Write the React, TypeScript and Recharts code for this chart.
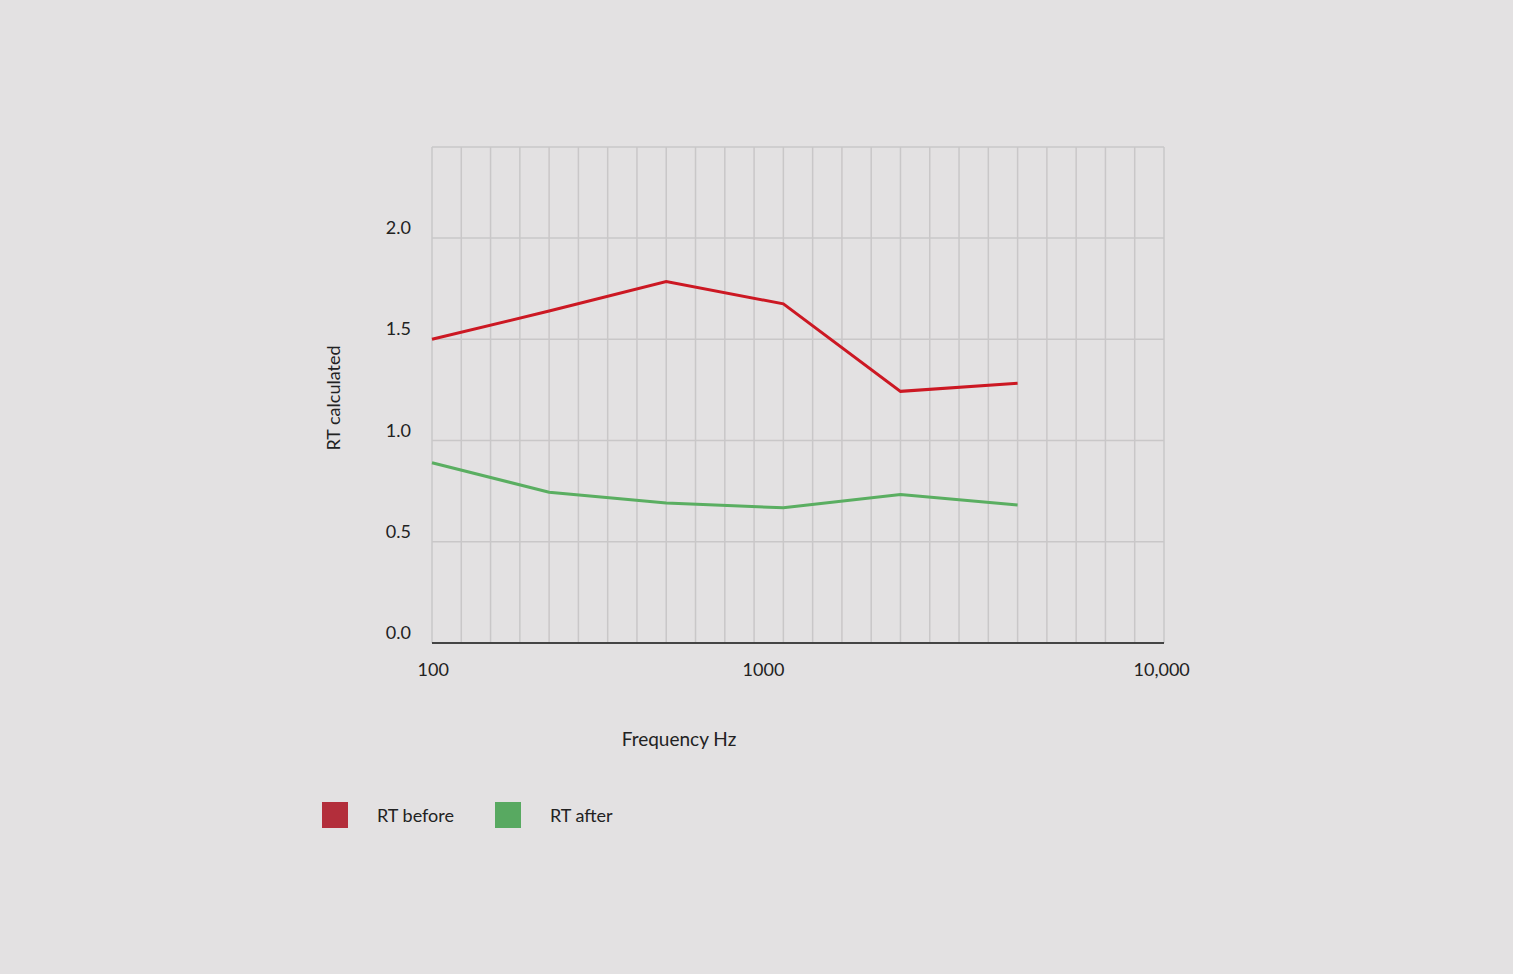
import { LineChart, Line, XAxis, YAxis, CartesianGrid, Legend } from "recharts"

// octave bands 125 Hz .. 4000 Hz, plotted at equal steps
const bands = ["125", "250", "500", "1000", "2000", "4000"]
const rtBefore = [1.5, 1.64, 1.785, 1.675, 1.243, 1.283]
const rtAfter = [0.89, 0.745, 0.692, 0.668, 0.733, 0.682]

// quarter-band grid lines and the printed frequency labels
const gridTicks = Array.from({ length: 26 }, (_, i) => i * 0.25)
const freqTickPos = [0.01, 2.83, 6.23]
const freqTickLabels = ["100", "1000", "10,000"]
const rtTicks = [0, 0.5, 1, 1.5, 2, 2.45]

const data = bands.map((band, i) => ({
  band,
  pos: i,
  before: rtBefore[i],
  after: rtAfter[i],
}))

const FONT = "Lato, 'Open Sans', sans-serif"
const BG = "#e3e1e2"

function YTick({ x, y, payload }: any) {
  if (payload.value > 2.2) return null
  return (
    <text x={x} y={y - 11} textAnchor="end" dominantBaseline="central" fontSize={18} fill="#222" fontFamily={FONT}>
      {payload.value.toFixed(1)}
    </text>
  )
}

function XTick({ x, y, payload, index }: any) {
  return (
    <text x={x} y={y + 18} textAnchor="middle" dominantBaseline="central" fontSize={18} fill="#222" fontFamily={FONT}>
      {freqTickLabels[index] ?? payload.value}
    </text>
  )
}

const legendItems = [
  { name: "RT before", color: "#b32e3b" },
  { name: "RT after", color: "#58a961" },
]

function LegendBox() {
  return (
    <div style={{ display: "flex", alignItems: "center", fontFamily: FONT, fontSize: 18, color: "#222" }}>
      {legendItems.map((item) => (
        <div key={item.name} style={{ display: "flex", alignItems: "center", marginRight: 41 }}>
          <span style={{ width: 26, height: 26, background: item.color, display: "inline-block", marginRight: 29 }} />
          <span>{item.name}</span>
        </div>
      ))}
    </div>
  )
}

export default function App() {
  return (
    <div style={{ position: "absolute", left: 0, top: 0, width: 1513, height: 974, background: BG, overflow: "hidden" }}>
      <LineChart width={1513} height={974} data={data} margin={{ top: 147, right: 349, bottom: 278, left: 372 }}>
        <CartesianGrid xAxisId="grid" stroke="#c9c7c8" strokeWidth={1.5} />
        <XAxis xAxisId="grid" dataKey="pos" type="number" domain={[0, 6.25]} ticks={gridTicks} hide />
        <XAxis
          xAxisId="freq"
          dataKey="pos"
          type="number"
          domain={[0, 6.25]}
          ticks={freqTickPos}
          tick={<XTick />}
          tickLine={false}
          axisLine={{ stroke: "#444", strokeWidth: 2 }}
          height={27}
          interval={0}
        />
        <YAxis
          type="number"
          domain={[0, 2.45]}
          ticks={rtTicks}
          tick={<YTick />}
          tickLine={false}
          axisLine={false}
          tickSize={0}
          tickMargin={21}
          width={60}
          interval={0}
        />
        <Line
          xAxisId="freq"
          dataKey="before"
          name="RT before"
          stroke="#cc1823"
          strokeWidth={3}
          dot={false}
          isAnimationActive={false}
        />
        <Line
          xAxisId="freq"
          dataKey="after"
          name="RT after"
          stroke="#5aae61"
          strokeWidth={3}
          dot={false}
          isAnimationActive={false}
        />
        <Legend content={<LegendBox />} wrapperStyle={{ left: 322, top: 802, width: 500, bottom: "auto" }} />
      </LineChart>
      <div
        style={{
          position: "absolute",
          left: 600,
          top: 727,
          width: 158,
          textAlign: "center",
          fontFamily: FONT,
          fontSize: 19,
          color: "#222",
        }}
      >
        Frequency Hz
      </div>
      <div
        style={{
          position: "absolute",
          left: 333,
          top: 398,
          transform: "translate(-50%, -50%) rotate(-90deg)",
          whiteSpace: "nowrap",
          fontFamily: FONT,
          fontSize: 18,
          color: "#222",
        }}
      >
        RT calculated
      </div>
    </div>
  )
}
